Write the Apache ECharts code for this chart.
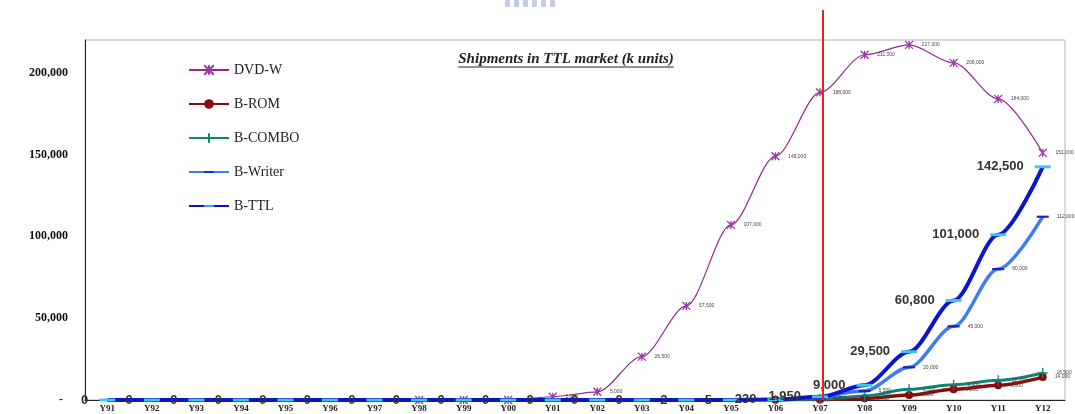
<!DOCTYPE html>
<html>
<head>
<meta charset="utf-8">
<script src="https://cdn.jsdelivr.net/npm/echarts@6/dist/echarts.min.js"></script>
<style>
  html, body { margin: 0; padding: 0; background: #ffffff; }
  #chart { width: 1075px; height: 414px; }
</style>
</head>
<body>
<div id="chart"></div>
<script>
// Years on the category axis
const categories = ['Y91','Y92','Y93','Y94','Y95','Y96','Y97','Y98','Y99','Y00','Y01',
                    'Y02','Y03','Y04','Y05','Y06','Y07','Y08','Y09','Y10','Y11','Y12'];

// Shipments, k units
const dvdW    = [null,null,null,null,null,null,null,0,0,0,2000,5000,26500,57500,107000,
                 149000,188000,211000,217000,206000,184000,151000];
const bRom    = [null,null,null,null,null,null,null,null,null,null,null,null,null,null,null,
                 200,350,1000,3000,6500,9000,14000];
const bCombo  = [null,null,null,null,null,null,null,null,null,null,null,null,null,null,null,
                 30,600,2500,6500,9300,12000,16500];
const bWriter = [null,null,null,null,null,null,null,null,null,null,null,null,null,null,null,
                 null,1000,5500,20000,45000,80000,112000];
const bTtl    = [0,0,0,0,0,0,0,0,0,0,0,0,0,2,5,230,1950,9000,29500,60800,101000,142500];

// Value-axis tick values
const yTicks = [0, 50000, 100000, 150000, 200000];

const titleText = 'Shipments in TTL market (k units)';
const markYear = 'Y07';

const SERIF = '"Liberation Serif", "Times New Roman", serif';
const SANS = '"Liberation Sans", Arial, sans-serif';

const fmt = v => Number(v).toLocaleString('en-US');

const tinyLabel = {
  show: true,
  position: 'right',
  distance: 8,
  fontSize: 5,
  fontFamily: SANS,
  color: '#444',
  formatter: p => (p.value ? fmt(p.value) : '')
};

// Marker shapes: star, plus, and a flat dash (the outer moveTo points keep the box square)
const starPath = 'path://M0,0L10,10M10,0L0,10M5,0L5,10';
const plusPath = 'path://M5,0L5,10M0,5L10,5';
const dashPath = 'path://M0,0M0,4.1L10,4.1L10,5.9L0,5.9ZM10,10';

const chart = echarts.init(document.getElementById('chart'), null, { renderer: 'canvas' });

chart.setOption({
  animation: false,
  backgroundColor: '#ffffff',
  grid: {
    left: 85, right: 10, top: 40, bottom: 14,
    show: true, borderColor: '#b4b4b4', borderWidth: 1, backgroundColor: 'transparent'
  },
  legend: {
    orient: 'vertical',
    left: 188, top: 63, padding: 0,
    itemWidth: 40, itemHeight: 12, itemGap: 20,
    textStyle: { fontFamily: SERIF, fontSize: 14, color: '#222' },
    data: ['DVD-W', 'B-ROM', 'B-COMBO', 'B-Writer', 'B-TTL']
  },
  xAxis: {
    type: 'category',
    data: categories,
    boundaryGap: true,
    axisLine: { show: true, lineStyle: { color: '#222', width: 1 } },
    axisTick: { show: false },
    axisLabel: {
      margin: 4, fontFamily: SERIF, fontWeight: 'bold', fontSize: 9, color: '#222',
      interval: 0
    },
    splitLine: { show: false }
  },
  yAxis: {
    type: 'value',
    min: 0, max: 220000, interval: 50000,
    axisLine: { show: true, lineStyle: { color: '#222', width: 1 } },
    axisTick: { show: false },
    splitLine: { show: false },
    axisLabel: {
      margin: 17,
      fontFamily: SERIF, fontWeight: 'bold', fontSize: 12, color: '#111',
      formatter: v => {
        if (!yTicks.includes(v)) return '';
        return v === 0 ? '{d|-}' : fmt(v);
      },
      rich: { d: { fontFamily: SERIF, fontWeight: 'bold', fontSize: 12, color: '#111', padding: [0, 5, 0, 0] } }
    }
  },
  series: [
    {
      name: 'DVD-W', type: 'line', data: dvdW,
      smooth: 0.3, smoothMonotone: 'x',
      symbol: starPath, symbolSize: 8,
      lineStyle: { color: '#8e2c8e', width: 1.2 },
      itemStyle: { color: '#8e2c8e', borderColor: '#9b35a8', borderWidth: 1.3 },
      label: tinyLabel, z: 3
    },
    {
      name: 'B-ROM', type: 'line', data: bRom,
      smooth: 0.3, smoothMonotone: 'x',
      symbol: 'circle', symbolSize: 8,
      lineStyle: { color: '#8b0a0a', width: 3.5 },
      itemStyle: { color: '#8b0a0a' },
      label: tinyLabel, z: 4
    },
    {
      name: 'B-COMBO', type: 'line', data: bCombo,
      smooth: 0.3, smoothMonotone: 'x',
      symbol: plusPath, symbolSize: 10,
      lineStyle: { color: '#128474', width: 3 },
      itemStyle: { color: '#128474', borderColor: '#128474', borderWidth: 1.3 },
      label: tinyLabel, z: 4
    },
    {
      name: 'B-Writer', type: 'line', data: bWriter,
      smooth: 0.3, smoothMonotone: 'x',
      symbol: dashPath, symbolSize: 12,
      lineStyle: { color: '#3f7cf2', width: 3.5 },
      itemStyle: { color: '#1a20b8' },
      label: tinyLabel, z: 5
    },
    {
      name: 'B-TTL', type: 'line', data: bTtl,
      smooth: 0.3, smoothMonotone: 'x',
      symbol: dashPath, symbolSize: 16,
      lineStyle: { color: '#0c14cc', width: 4 },
      itemStyle: { color: '#3cc6f2' },
      label: {
        show: true, position: 'left', distance: 11,
        fontFamily: SANS, fontWeight: 'bold', fontSize: 13, color: '#333',
        formatter: p => fmt(p.value)
      },
      z: 6
    }
  ]
});

// Title with underline, red divider at the marked year
function decorate() {
  const titleFont = 'italic bold 15px ' + SERIF;
  const ctx = document.createElement('canvas').getContext('2d');
  ctx.font = titleFont;
  const tw = ctx.measureText(titleText).width;
  const cx = 566, cy = 60;

  const xMark = chart.convertToPixel({ xAxisIndex: 0 }, markYear) + 3;
  const yBase = chart.convertToPixel({ yAxisIndex: 0 }, 0);

  chart.setOption({
    graphic: [
      {
        type: 'text', left: cx - tw / 2, top: cy - 8, z: 20,
        style: { text: titleText, font: titleFont, fill: '#222' }
      },
      {
        type: 'line', z: 20,
        shape: { x1: cx - tw / 2, y1: cy + 7, x2: cx + tw / 2, y2: cy + 7 },
        style: { stroke: '#222', lineWidth: 1 }
      },
      {
        type: 'line', z: 30,
        shape: { x1: xMark, y1: 10, x2: xMark, y2: yBase },
        style: { stroke: '#e8231f', lineWidth: 2 }
      },
      {
        type: 'group', left: 505, top: 0, z: 1,
        children: [0, 1, 2, 3, 4, 5].map(i => ({
          type: 'rect',
          shape: { x: i * 9, y: 0, width: 5, height: 7, r: 1 },
          style: { fill: '#b5bde3', opacity: 0.8 }
        }))
      }
    ]
  });
}
decorate();
</script>
</body>
</html>
